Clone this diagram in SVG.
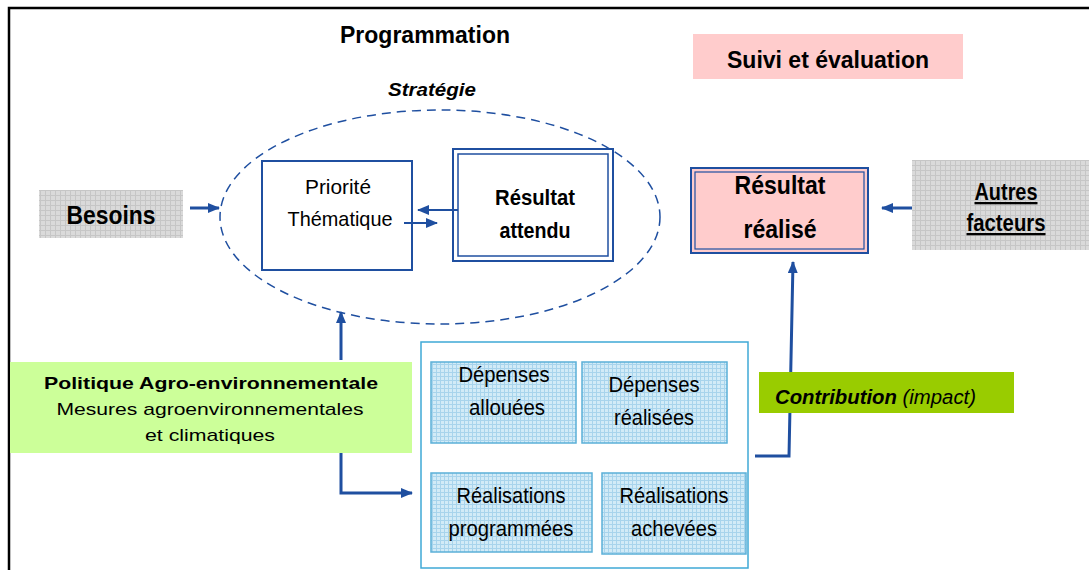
<svg xmlns="http://www.w3.org/2000/svg" width="1089" height="570" viewBox="0 0 1089 570">
<style>
text{font-family:"Liberation Sans",Arial,sans-serif;fill:#000}
.b{font-weight:bold}
.c{text-anchor:middle}
.conn{fill:none;stroke:#1F4FA0;stroke-width:3}
.blue{fill:none;stroke:#1F4FA0;stroke-width:2}
.cell{fill:url(#blueGrid);stroke:#5BB0D8;stroke-width:1.5}
</style>
<defs>
<pattern id="grayGrid" width="5" height="5" patternUnits="userSpaceOnUse">
<rect width="5" height="5" fill="#DADADA"/>
<path d="M0,0.5H5M0.5,0V5" stroke="#C6C6C6" stroke-width="1"/>
</pattern>
<pattern id="blueGrid" width="4" height="4" patternUnits="userSpaceOnUse">
<rect width="4" height="4" fill="#D2EBF7"/>
<path d="M0,0.5H4M0.5,0V4" stroke="#A8D4EC" stroke-width="1"/>
</pattern>
<marker id="ah" markerWidth="12" markerHeight="10" refX="11" refY="5" orient="auto" markerUnits="userSpaceOnUse">
<path d="M0,0L12,5L0,10Z" fill="#1F4FA0"/>
</marker>
</defs>
<rect width="1089" height="570" fill="#fff"/>
<path d="M9,570V8H1089" fill="none" stroke="#000" stroke-width="2.5"/>

<g id="titles">
<text class="b c" x="425" y="43" font-size="24" textLength="170" lengthAdjust="spacingAndGlyphs">Programmation</text>
</g>
<g id="suivi">
<rect x="693" y="34" width="270" height="45" fill="#FFCCCC"/>
<text class="b c" x="828" y="68" font-size="24" textLength="202" lengthAdjust="spacingAndGlyphs">Suivi et évaluation</text>
</g>

<g id="strategie">
<ellipse cx="440" cy="217" rx="220" ry="107" fill="none" stroke="#1F4FA0" stroke-width="1.5" stroke-dasharray="9,6"/>
<text class="b c" x="432" y="96" font-size="19" font-style="italic" textLength="88" lengthAdjust="spacingAndGlyphs">Stratégie</text>
</g>

<g id="besoins">
<rect x="39" y="190" width="144" height="48" fill="url(#grayGrid)"/>
<text class="b c" x="111" y="224" font-size="25" textLength="89" lengthAdjust="spacingAndGlyphs">Besoins</text>
</g>

<g id="priorite">
<rect x="262" y="161" width="150" height="109" fill="#fff" class="blue"/>
<text class="c" x="338" y="194" font-size="21" textLength="66" lengthAdjust="spacingAndGlyphs">Priorité</text>
<text class="c" x="340" y="226" font-size="21" textLength="105" lengthAdjust="spacingAndGlyphs">Thématique</text>
</g>

<g id="resultat-attendu">
<rect x="453" y="149" width="160" height="112" fill="#fff" stroke="#1F4FA0" stroke-width="2"/>
<rect x="458" y="154" width="150" height="102" fill="none" stroke="#1F4FA0" stroke-width="1.5"/>
<text class="b c" x="535" y="205" font-size="22" textLength="80" lengthAdjust="spacingAndGlyphs">Résultat</text>
<text class="b c" x="535" y="238" font-size="22" textLength="71" lengthAdjust="spacingAndGlyphs">attendu</text>
</g>

<g id="resultat-realise">
<rect x="691" y="168" width="177" height="85" fill="#FFCCCC" stroke="#1F4FA0" stroke-width="2"/>
<rect x="695" y="172" width="169" height="77" fill="none" stroke="#1F4FA0" stroke-width="1.2"/>
<text class="b c" x="780" y="194" font-size="26" textLength="91" lengthAdjust="spacingAndGlyphs">Résultat</text>
<text class="b c" x="780" y="238" font-size="26" textLength="73" lengthAdjust="spacingAndGlyphs">réalisé</text>
</g>

<g id="autres">
<rect x="912" y="160" width="177" height="90" fill="url(#grayGrid)"/>
<text class="b c" x="1006" y="200" font-size="23" text-decoration="underline" textLength="63" lengthAdjust="spacingAndGlyphs">Autres</text>
<text class="b c" x="1006" y="231" font-size="23" text-decoration="underline" textLength="79" lengthAdjust="spacingAndGlyphs">facteurs</text>
</g>

<g id="politique">
<rect x="10" y="362" width="402" height="91" fill="#CCFF99"/>
<text class="b c" x="211" y="389" font-size="17" textLength="334" lengthAdjust="spacingAndGlyphs">Politique Agro-environnementale</text>
<text class="c" x="210" y="415" font-size="17" textLength="307" lengthAdjust="spacingAndGlyphs">Mesures agroenvironnementales</text>
<text class="c" x="210" y="441" font-size="17" textLength="130" lengthAdjust="spacingAndGlyphs">et climatiques</text>
</g>

<g id="moyens">
<rect x="421" y="342" width="327" height="226" fill="#fff" stroke="#3FA9D6" stroke-width="1.5"/>
</g>
<g id="depenses-allouees">
<rect class="cell" x="431" y="362" width="145" height="81"/>
<text class="c" x="504" y="382" font-size="22" textLength="91" lengthAdjust="spacingAndGlyphs">Dépenses</text>
<text class="c" x="507" y="415" font-size="22" textLength="76" lengthAdjust="spacingAndGlyphs">allouées</text>
</g>
<g id="depenses-realisees">
<rect class="cell" x="582" y="362" width="145" height="81"/>
<text class="c" x="654" y="392" font-size="22" textLength="91" lengthAdjust="spacingAndGlyphs">Dépenses</text>
<text class="c" x="654" y="425" font-size="22" textLength="80" lengthAdjust="spacingAndGlyphs">réalisées</text>
</g>
<g id="realisations-programmees">
<rect class="cell" x="431" y="473" width="161" height="79"/>
<text class="c" x="511" y="503" font-size="22" textLength="109" lengthAdjust="spacingAndGlyphs">Réalisations</text>
<text class="c" x="511" y="536" font-size="22" textLength="125" lengthAdjust="spacingAndGlyphs">programmées</text>
</g>
<g id="realisations-achevees">
<rect class="cell" x="602" y="473" width="144" height="81"/>
<text class="c" x="674" y="503" font-size="22" textLength="109" lengthAdjust="spacingAndGlyphs">Réalisations</text>
<text class="c" x="674" y="536" font-size="22" textLength="86" lengthAdjust="spacingAndGlyphs">achevées</text>
</g>

<g id="connectors">
<path class="conn" d="M190,208H219" marker-end="url(#ah)"/>
<path class="blue" d="M458,210H418" marker-end="url(#ah)"/>
<path class="blue" d="M404,223H437" marker-end="url(#ah)"/>
<path class="conn" d="M912,208H882" marker-end="url(#ah)"/>
<path class="conn" d="M341,360V312" marker-end="url(#ah)"/>
<path class="conn" d="M341,453V493H412" marker-end="url(#ah)"/>
<path class="conn" d="M755,456H789L793,262" marker-end="url(#ah)"/>
</g>

<g id="contribution">
<rect x="759" y="372" width="255" height="41" fill="#99CC00"/>
<text x="775" y="404" font-size="20" font-style="italic" textLength="201" lengthAdjust="spacingAndGlyphs"><tspan class="b">Contribution</tspan> (impact)</text>
</g>
</svg>
